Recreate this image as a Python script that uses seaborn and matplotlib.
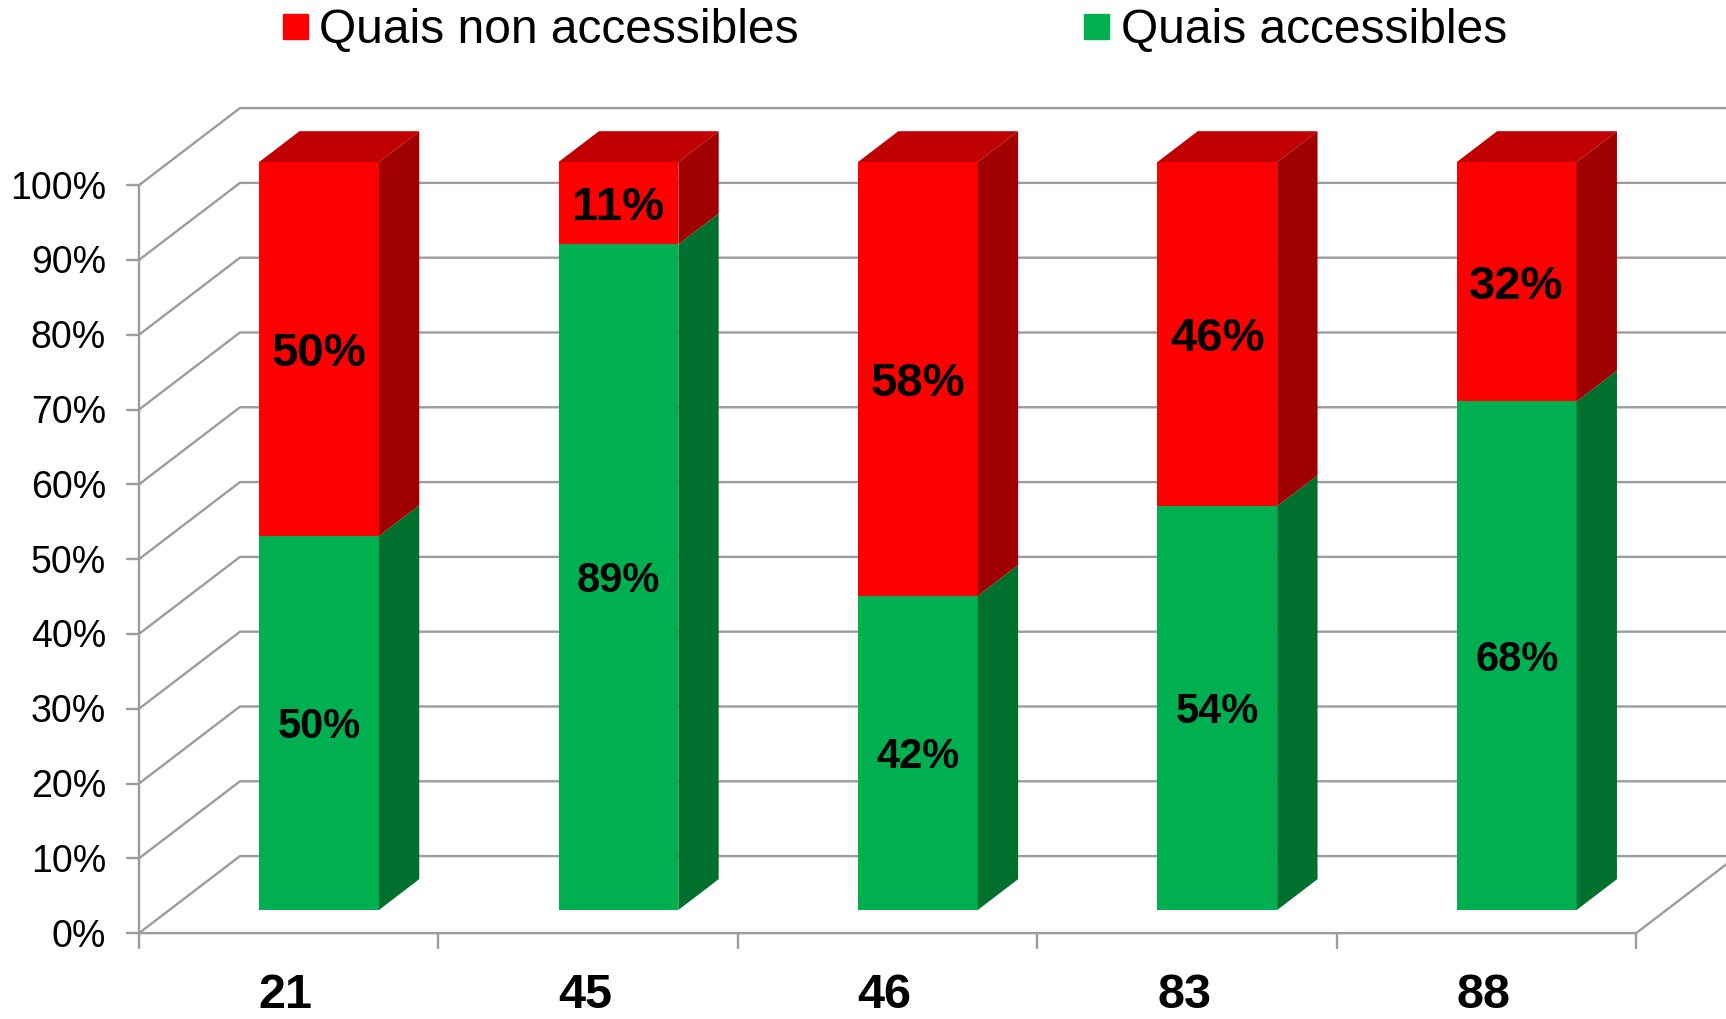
import numpy as np
import pandas as pd
import seaborn as sns
import matplotlib.pyplot as plt
from matplotlib.patches import Polygon
from matplotlib.lines import Line2D

departements = ["21", "45", "46", "83", "88"]
accessibles = [50, 89, 42, 54, 68]
non_accessibles = [50, 11, 58, 46, 32]
y_ticks = [0, 10, 20, 30, 40, 50, 60, 70, 80, 90, 100]
legend_labels = ["Quais non accessibles", "Quais accessibles"]

RED, RED_TOP, RED_SIDE = "#FF0000", "#C00000", "#A00000"
GREEN, GREEN_SIDE = "#00B050", "#00702F"
GRID = "#9C9C9C"

# fake 3d: oblique offset of the full box depth, in data units
DX, DY = 0.337, 10.3
BAR_FRONT, BAR_BACK = 0.3, 0.7
BAR_W = 0.4
CAP = 0.716  # digit height / font size (Liberation Sans)


def proj(x, v, d):
    # d = depth inside the box (0 front, 1 back), bar front faces are the data plane
    return x + (d - BAR_FRONT) * DX, v + (d - BAR_FRONT) * DY


def centered_label(ax, x, y, s, size, **kw):
    # put the middle of the digits (not of the text box) on (x, y)
    ax.annotate(s, (x, y), xytext=(0, -CAP * size / 2), textcoords="offset points",
                ha="center", va="baseline", fontsize=size, color="black", **kw)


sns.set_theme(style="white")
plt.rcParams["font.family"] = ["Liberation Sans", "DejaVu Sans"]
plt.rcParams["text.color"] = "black"

df = pd.DataFrame({"dep": departements, "acc": accessibles, "non": non_accessibles})
df["total"] = df["acc"] + df["non"]

fig = plt.figure(figsize=(17.26, 10.19), dpi=100)
ax = fig.add_axes([0, 0, 1, 1])

n = len(departements)
x0, x1 = -0.5, n - 0.5
LW = 1.7

# walls: side wall diagonals + back wall horizontals
for v in y_ticks:
    a, b, c = proj(x0, v, 0), proj(x0, v, 1), proj(x1, v, 1)
    ax.plot([a[0], b[0], c[0]], [a[1], b[1], c[1]], color=GRID, lw=LW, zorder=1)
    ax.plot([a[0] - 0.04, a[0]], [a[1], a[1]], color=GRID, lw=LW, zorder=1)

# floor front edge + right diagonal, front vertical axis
f0, f1, f2 = proj(x0, 0, 0), proj(x1, 0, 0), proj(x1, 0, 1)
ax.plot([f0[0], f1[0], f2[0]], [f0[1], f1[1], f2[1]], color=GRID, lw=LW, zorder=1)
top = proj(x0, 100, 0)
ax.plot([f0[0], top[0]], [f0[1], top[1]], color=GRID, lw=LW, zorder=1)
for k in range(n + 1):
    px, py = proj(x0 + k, 0, 0)
    ax.plot([px, px], [py, py - 2.0], color=GRID, lw=LW, zorder=1)

# front faces
sns.barplot(data=df, x="dep", y="total", color=RED, width=BAR_W, saturation=1,
            linewidth=0, ax=ax, zorder=2)
sns.barplot(data=df, x="dep", y="acc", color=GREEN, width=BAR_W, saturation=1,
            linewidth=0, ax=ax, zorder=2)

# side and top faces, labels
for i, row in df.iterrows():
    xr = i + BAR_W / 2
    xl = i - BAR_W / 2
    for lo, hi, col in [(0, row["acc"], GREEN_SIDE), (row["acc"], row["total"], RED_SIDE)]:
        pts = [proj(xr, lo, BAR_FRONT), proj(xr, lo, BAR_BACK),
               proj(xr, hi, BAR_BACK), proj(xr, hi, BAR_FRONT)]
        ax.add_patch(Polygon(pts, closed=True, fc=col, ec="none", zorder=2))
    t = row["total"]
    pts = [proj(xl, t, BAR_FRONT), proj(xr, t, BAR_FRONT),
           proj(xr, t, BAR_BACK), proj(xl, t, BAR_BACK)]
    ax.add_patch(Polygon(pts, closed=True, fc=RED_TOP, ec="none", zorder=2))

    centered_label(ax, i, row["acc"] / 2, f"{row['acc']}%", 30, fontweight="bold", zorder=3)
    centered_label(ax, i, row["acc"] + row["non"] / 2, f"{row['non']}%", 34,
                   fontweight="bold", zorder=3)

    cx, cy = proj(i, 0, 0)
    centered_label(ax, cx - 0.01, cy - 7.7, row["dep"], 35, fontweight="bold")

for v in y_ticks:
    px, py = proj(x0, v, 0)
    ax.annotate(f"{v}%", (px - 0.11, py), xytext=(0, -CAP * 27 / 2), textcoords="offset points",
                ha="right", va="baseline", fontsize=27, color="black")

ax.set_xlim(-1.0655, 4.699)
ax.set_ylim(-14.57, 121.66)
ax.set_axis_off()

handles = [Line2D([], [], marker="s", ms=18, color=c, ls="none") for c in (RED, GREEN)]
fig.legend(handles, legend_labels, loc="center left", bbox_to_anchor=(282 / 1726, 1 - 30 / 1019),
           ncol=2, frameon=False, fontsize=34.5, handlelength=0.53, handletextpad=0.24,
           columnspacing=5.95, borderpad=0, borderaxespad=0)

fig.savefig("out.png", dpi=100)
